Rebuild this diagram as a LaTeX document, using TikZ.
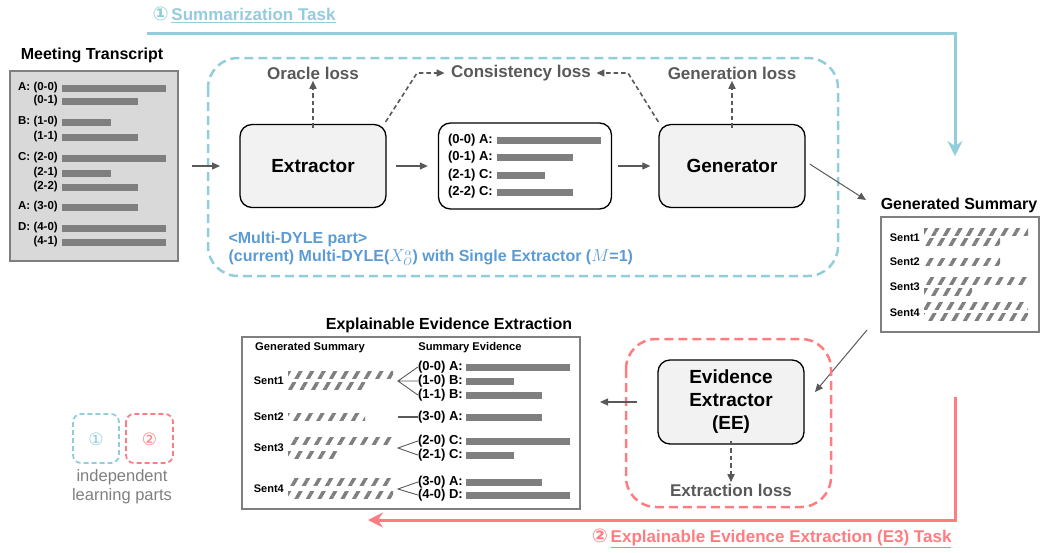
\documentclass[tikz,border=0pt]{standalone}
\usepackage{fontspec}
\setmainfont{Liberation Sans}
\newfontfamily\symfont{DejaVu Sans}
\usetikzlibrary{arrows.meta,patterns.meta,positioning}
\definecolor{skyline}{HTML}{92CDDC}
\definecolor{coral}{HTML}{FF7C80}
\definecolor{midblue}{HTML}{5B9BD5}
\definecolor{losgray}{HTML}{595959}
\definecolor{bargray}{HTML}{7F7F7F}
\definecolor{boxfill}{HTML}{F2F2F2}
\definecolor{paper}{HTML}{D9D9D9}
\tikzset{
  module/.style={draw=black, line width=1.3pt, fill=boxfill, rounded corners=12pt,
    minimum width=146pt, minimum height=83pt, align=center,
    font=\bfseries\fontsize{19}{23}\selectfont},
  losslabel/.style={text=losgray, font=\bfseries\fontsize{17}{20}\selectfont},
  headline/.style={font=\bfseries\fontsize{16}{19}\selectfont},
  rowtext/.style={anchor=east, inner sep=0pt, font=\bfseries\fontsize{13}{15}\selectfont},
  flow/.style={draw=losgray, line width=1.2pt, -{Triangle[length=8pt,width=7pt]}},
  lossflow/.style={flow, line width=1.6pt, dash pattern=on 4.5pt off 3pt},
  partbox/.style={dash pattern=on 9pt off 5pt, line width=2.5pt, rounded corners=30pt},
  taskline/.style={line width=3pt, -{Stealth[length=15pt,width=15pt,inset=5pt]}},
}
% striped bar of a generated sentence
\newcommand\hatch[3]{\fill[pattern={Lines[angle=60,distance=10pt,line width=3.5pt]},
  pattern color=bargray] (#1,#3-3.5) rectangle (#2,#3+3.5);}
% grey bar of an utterance
\newcommand\utter[3]{\fill[bargray] (#1,#3-3.5) rectangle (#2,#3+3.5);}
\begin{document}
\begin{tikzpicture}[x=1pt,y=-1pt]
  \useasboundingbox (0,0) rectangle (1042,552);

  % summarization task
  \node[anchor=west, text=skyline, font=\bfseries\fontsize{17}{20}\selectfont]
    (task1) at (149,15) {{\symfont\bfseries\fontsize{19}{20}\selectfont ①}\,\underline{Summarization Task}};
  \coordinate (t1a) at (147,33);
  \coordinate (t1b) at (955,33);
  \coordinate (t1c) at (955,156);
  \draw[taskline, draw=skyline, color=skyline] (t1a) -- (t1b) -- (t1c);

  % meeting transcript
  \node[headline] (mt) at (92,55) {Meeting Transcript};
  \node[draw=bargray, fill=paper, line width=2pt, minimum width=168pt,
    minimum height=190pt] (trans) at (94,166) {};
  \foreach \lab/\y/\x in {{A: (0-0)}/88/166, (0-1)/101/138, {B: (1-0)}/122/111,
      (1-1)/137/138, {C: (2-0)}/158/166, (2-1)/173/111, (2-2)/187/138,
      {A: (3-0)}/207/138, {D: (4-0)}/228/166, (4-1)/242/166}{
    \node[rowtext, font=\bfseries\fontsize{11.5}{13}\selectfont] (tr\y) at (58,\y) {\lab};
    \utter{62}{\x}{\y}
  }

  % multi-dyle part
  \draw[partbox, skyline] (208,58) rectangle (838,276);
  \node[module] (ext) at (313,166) {Extractor};
  \node[module] (gen) at (732,166) {Generator};
  \node[draw=black, line width=1.3pt, rounded corners=12pt, minimum width=173pt,
    minimum height=86pt] (sel) at (525,166) {};
  \foreach \lab/\y/\x in {{(0-0) A:}/140/601, {(0-1) A:}/157/573,
      {(2-1) C:}/175/545, {(2-2) C:}/192/573}{
    \node[rowtext] (sel\y) at (493,\y) {\lab};
    \utter{497}{\x}{\y}
  }
  \node[losslabel] (orac) at (313,73) {Oracle loss};
  \node[losslabel] (cons) at (521,73) {Consistency loss};
  \node[losslabel] (genl) at (732,73) {Generation loss};
  \node[anchor=west, text=midblue, align=left, font=\bfseries\fontsize{16}{17.5}\selectfont]
    (dyle) at (225,249) {<Multi-DYLE part>\\(current) Multi-DYLE($X_{O}^{\alpha}$) with Single Extractor ($M$=1)};

  \coordinate (in1) at (192,166);
  \coordinate (in2) at (220,166);
  \draw[flow] (in1) -- (in2);
  \draw[flow] ([xshift=9]ext.east) -- ([xshift=-10]sel.west);
  \draw[flow] ([xshift=6]sel.east) -- ([xshift=-8]gen.west);
  \draw[lossflow] ([yshift=-4]ext.north) -- ([yshift=2]orac.south);
  \draw[lossflow] ([yshift=-4]gen.north) -- ([yshift=2]genl.south);
  \coordinate (cl) at (417,73);
  \coordinate (cr) at (628,73);
  \draw[lossflow] ([xshift=-1,yshift=2]ext.north east) -- (cl) -- ([xshift=-3]cons.west);
  \draw[lossflow] ([xshift=0,yshift=2]gen.north west) -- (cr) -- ([xshift=2]cons.east);

  % generated summary
  \node[headline] (gsh) at (959,205) {Generated Summary};
  \node[draw=bargray, line width=2pt, minimum width=158pt, minimum height=115pt]
    (gs) at (960,274.5) {};
  \foreach \s/\y in {1/238, 2/262, 3/287, 4/313}{
    \node[rowtext, font=\bfseries\fontsize{11}{13}\selectfont] (gs\s) at (920,\y) {Sent\s};
  }
  \hatch{924}{1028}{232} \hatch{924}{1000}{242}
  \hatch{924}{1000}{262}
  \hatch{924}{1028}{281} \hatch{924}{972}{292}
  \hatch{924}{1028}{306} \hatch{924}{1028}{317}
  \coordinate (g2s) at (866,200);
  \coordinate (s2e) at (815,392);
  \draw[flow, line width=1pt] ([xshift=4,yshift=2]gen.east) -- (g2s);
  \draw[flow, line width=1pt] ([xshift=-13,yshift=3]gs.south west) -- (s2e);

  % evidence extractor part
  \draw[partbox, coral] (626,339) rectangle (831,507);
  \node[module, minimum height=84pt] (ee) at (731,402) {Evidence\\Extractor\\(EE)};
  \node[losslabel] (extl) at (731,490) {Extraction loss};
  \draw[lossflow] ([yshift=4]ee.south) -- ([yshift=-2]extl.north);

  % explainable evidence extraction
  \node[headline] (xee) at (449,325) {Explainable Evidence Extraction};
  \node[draw=bargray, line width=2pt, minimum width=338pt, minimum height=172pt]
    (xbox) at (411,423) {};
  \node[font=\bfseries\fontsize{11.2}{13}\selectfont] (xgs) at (310,348) {Generated Summary};
  \node[font=\bfseries\fontsize{11.2}{13}\selectfont] (xse) at (470,348) {Summary Evidence};
  \foreach \s/\y in {1/381, 2/417, 3/448, 4/489}{
    \node[rowtext, font=\bfseries\fontsize{11}{13}\selectfont] (xs\s) at (284,\y) {Sent\s};
  }
  \hatch{288}{393}{375} \hatch{288}{365}{386}
  \hatch{288}{365}{417}
  \hatch{288}{393}{441} \hatch{288}{337}{455}
  \hatch{288}{393}{482} \hatch{288}{393}{495}
  \foreach \n/\lab/\y/\x in {1/{(0-0) A:}/367/570, 2/{(1-0) B:}/381/514,
      3/{(1-1) B:}/395/542, 4/{(3-0) A:}/417/542, 5/{(2-0) C:}/441/570,
      6/{(2-1) C:}/455/514, 7/{(3-0) A:}/482/542, 8/{(4-0) D:}/495/570}{
    \node[rowtext] (ev\n) at (463,\y) {\lab};
    \utter{466}{\x}{\y}
  }
  \coordinate (f1) at (398,381);
  \coordinate (f2) at (398,417);
  \coordinate (f3) at (398,448);
  \coordinate (f4) at (398,489);
  \draw[losgray, line width=0.9pt] (ev1.west) -- (f1) -- (ev3.west) (f1) -- (ev2.west);
  \draw[losgray, line width=1.5pt] (f2) -- (ev4.west);
  \draw[losgray, line width=0.9pt] (ev5.west) -- (f3) -- (ev6.west);
  \draw[losgray, line width=0.9pt] (ev7.west) -- (f4) -- (ev8.west);
  \coordinate (e2x) at (637,402);
  \coordinate (x2e) at (600,402);
  \draw[flow] (e2x) -- (x2e);

  % explainable evidence extraction task
  \coordinate (t2a) at (955,397);
  \coordinate (t2b) at (955,520);
  \coordinate (t2c) at (368,520);
  \draw[taskline, draw=coral, color=coral] (t2a) -- (t2b) -- (t2c);
  \node[anchor=east, text=coral, font=\bfseries\fontsize{17}{20}\selectfont]
    (task2) at (955,538) {{\symfont\bfseries\fontsize{19}{20}\selectfont ②}\,\underline{Explainable Evidence Extraction (E3) Task}};

  % legend
  \draw[skyline, dash pattern=on 5pt off 3pt, line width=1.8pt, rounded corners=8pt]
    (73,414) rectangle (119,463);
  \draw[coral, dash pattern=on 5pt off 3pt, line width=1.8pt, rounded corners=8pt]
    (126,414) rectangle (173,463);
  \node[text=skyline, font=\symfont\fontsize{17}{20}\selectfont] (lg1) at (96,439) {①};
  \node[text=coral, font=\symfont\fontsize{17}{20}\selectfont] (lg2) at (149.5,439) {②};
  \node[text=bargray, align=center, font=\fontsize{16.5}{19}\selectfont]
    (lgt) at (122,487) {independent\\learning parts};
\end{tikzpicture}
\end{document}
